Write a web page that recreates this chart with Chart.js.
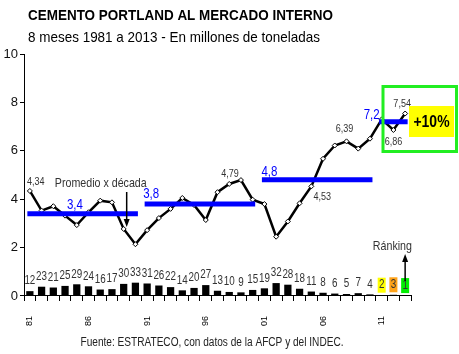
<!DOCTYPE html>
<html><head><meta charset="utf-8">
<script src="https://cdn.jsdelivr.net/npm/chart.js@4"></script>
<style>html,body{margin:0;padding:0;background:#fff}#wrap{width:459px;height:354px;position:relative}</style>
</head><body><div id="wrap"><canvas id="c" width="459" height="354"></canvas></div>
<script>
// ---- data ----
const years = ['1981','1982','1983','1984','1985','1986','1987','1988','1989','1990',
               '1991','1992','1993','1994','1995','1996','1997','1998','1999','2000',
               '2001','2002','2003','2004','2005','2006','2007','2008','2009','2010',
               '2011','2012','2013'];
const consumo = [4.34,3.53,3.71,3.32,2.93,3.46,3.94,3.87,2.77,2.14,
                 2.72,3.22,3.60,4.05,3.76,3.14,4.29,4.63,4.79,3.98,
                 3.80,2.45,3.08,3.83,4.53,5.67,6.22,6.39,6.09,6.50,
                 7.30,6.86,7.54];
const ranking = [12,23,21,25,29,24,16,17,30,33,31,26,22,14,20,27,13,10,9,15,19,32,28,18,11,8,6,5,7,4,2,3,1];
const promedios = [3.4, 3.8, 4.8, 7.2];
const promedioLabels = ['3,4','3,8','4,8','7,2'];
const promedioDesde = ['1981','1991','2001','2011'];
const promedioHasta = ['1990','2000','2010','2013'];
const labeledYears = ['1981','1999','2005','2008','2012','2013'];
const labeledTexts = ['4,34','4,79','4,53','6,39','6,86','7,54'];
const yTickValues = [0,2,4,6,8,10];
const title = 'CEMENTO PORTLAND AL MERCADO INTERNO';
const subtitle = '8 meses 1981 a 2013 - En millones de toneladas';
const footer = 'Fuente: ESTRATECO, con datos de la AFCP y del INDEC.';
const variacion = '+10%';

// ---- derived datasets ----
const avgSeries = promedios.map((v, k) => {
  const a = years.indexOf(promedioDesde[k]), b = years.indexOf(promedioHasta[k]);
  return years.map((y, i) => (i >= a && i <= b) ? v : null);
});

const FAM = '"Liberation Sans",Arial,sans-serif';
const font = (size, weight) => (weight ? weight + ' ' : '') + size + 'px ' + FAM;
const NARROW_K = 0.82;

// draw text horizontally condensed (Arial Narrow look)
function nText(ctx, text, x, y, f, align, color, k) {
  k = k || NARROW_K;
  ctx.save();
  ctx.font = f;
  ctx.fillStyle = color;
  ctx.textBaseline = 'middle';
  ctx.textAlign = align || 'center';
  ctx.translate(x, y);
  ctx.scale(k, 1);
  ctx.fillText(text, 0, 0);
  ctx.restore();
}
function fitK(ctx, text, f, width) {
  ctx.save(); ctx.font = f; const w = ctx.measureText(text).width; ctx.restore();
  return width / w;
}

const annot = {
  id: 'annot',
  afterDraw(chart) {
    const ctx = chart.ctx, xs = chart.scales.x, ys = chart.scales.y;
    const px = y => xs.getPixelForValue(years.indexOf(y));
    const py = v => ys.getPixelForValue(v);
    ctx.save();
    // titles
    nText(ctx, title, 28, 16, font(15, 'bold'), 'left', '#000', fitK(ctx, title, font(15, 'bold'), 305));
    nText(ctx, subtitle, 28, 38, font(15), 'left', '#000', fitK(ctx, subtitle, font(15), 292));

    // rank labels
    const meta = chart.getDatasetMeta(0);
    const hi = {1: '#00ee00', 2: '#ffff00', 3: '#ffa31a'};
    meta.data.forEach((bar, i) => {
      const r = ranking[i];
      const cy = bar.y - 10;
      if (hi[r]) {
        ctx.fillStyle = hi[r];
        ctx.fillRect(bar.x - 4, cy - 7.5, 8, 15);
      }
      nText(ctx, String(r), bar.x, cy, font(12), 'center', '#333');
    });

    // value labels
    const offs = [[6,-9],[-11,-6],[11,11],[-2,-12],[0,12],[-3,-10]];
    labeledYears.forEach((y, k) => {
      const i = years.indexOf(y);
      nText(ctx, labeledTexts[k], px(y) + offs[k][0], py(consumo[i]) + offs[k][1], font(11), 'center', '#333');
    });

    // average labels
    const aoffs = [[45,-9],[4,-10],[5,-8],[-10,-7]];
    promedios.forEach((v, k) => {
      nText(ctx, promedioLabels[k], px(promedioDesde[k]) + aoffs[k][0], py(v) + aoffs[k][1], font(14), 'center', '#0000ff');
    });

    // Promedio x década + arrow
    nText(ctx, 'Promedio x década', px('1985') + 24, 183, font(13), 'center', '#333');
    const ax = px('1989') + 3;
    ctx.strokeStyle = '#000'; ctx.fillStyle = '#000'; ctx.lineWidth = 1.5;
    ctx.beginPath(); ctx.moveTo(ax, 192); ctx.lineTo(ax, 220); ctx.stroke();
    ctx.beginPath(); ctx.moveTo(ax - 3, 219); ctx.lineTo(ax + 3, 219); ctx.lineTo(ax, 227); ctx.closePath(); ctx.fill();

    // Ránking + arrow
    nText(ctx, 'Ránking', px('2012') - 1, 246, font(13), 'center', '#333');
    const bx = px('2013');
    ctx.fillStyle = '#000';
    ctx.beginPath(); ctx.moveTo(bx, 281); ctx.lineTo(bx, 261); ctx.stroke();
    ctx.beginPath(); ctx.moveTo(bx - 3, 262); ctx.lineTo(bx + 3, 262); ctx.lineTo(bx, 254); ctx.closePath(); ctx.fill();

    // green frame and +10%
    ctx.strokeStyle = '#22ee22'; ctx.lineWidth = 3;
    ctx.strokeRect(383, 86.5, 73.5, 65);
    ctx.fillStyle = '#ffff00';
    ctx.fillRect(409, 106, 45, 31);
    nText(ctx, variacion, 431.5, 122, font(17, 'bold'), 'center', '#000');

    // footer
    nText(ctx, footer, 212, 343, font(12), 'center', '#222', fitK(ctx, footer, font(12), 263));
    ctx.restore();
  }
};

const datasets = [
  { type: 'bar', data: ranking, yAxisID: 'yBar', backgroundColor: '#000',
    barPercentage: 0.62, categoryPercentage: 1, order: 3 },
  { type: 'line', data: consumo, yAxisID: 'y', borderColor: '#000', borderWidth: 2.5,
    tension: 0, pointStyle: 'rectRot', pointRadius: 2.5, pointBackgroundColor: '#fff',
    pointBorderColor: '#000', pointBorderWidth: 1, order: 2 }
];
avgSeries.forEach(s => datasets.push({
  type: 'line', data: s, yAxisID: 'y', borderColor: '#0000ff', borderWidth: 5,
  borderCapStyle: 'square', pointRadius: 0, spanGaps: false, order: 1
}));

new Chart(document.getElementById('c'), {
  type: 'bar',
  data: { labels: years, datasets },
  plugins: [annot],
  options: {
    responsive: false, animation: false, devicePixelRatio: 1,
    layout: { padding: { top: 54, left: 2, right: 48, bottom: 13 } },
    plugins: { legend: { display: false }, tooltip: { enabled: false }, title: { display: false } },
    scales: {
      x: {
        type: 'category', offset: true,
        grid: { offset: true, drawOnChartArea: false, drawTicks: true, tickLength: 5, color: '#000' },
        border: { color: '#000', width: 1 },
        ticks: { autoSkip: false, minRotation: 90, maxRotation: 90, padding: 15,
                 font: { size: 9, family: FAM }, color: '#000',
                 callback: (v, i) => (i % 5 === 0 ? years[i].slice(2) : '') }
      },
      y: {
        min: 0, max: 10,
        afterBuildTicks: sc => { sc.ticks = yTickValues.map(v => ({ value: v })); },
        afterFit: sc => { sc.width = 22; },
        grid: { drawOnChartArea: false, tickLength: 4, color: '#000' },
        border: { color: '#000', width: 1 },
        ticks: { font: { size: 13, family: FAM }, color: '#111', padding: 2 }
      },
      yBar: { display: false, min: 0, max: 600 }
    }
  }
});
</script></body></html>
